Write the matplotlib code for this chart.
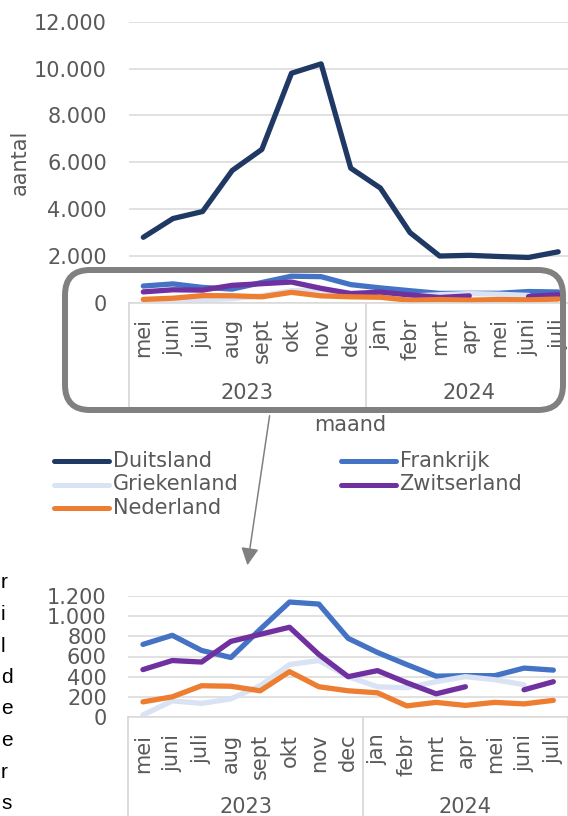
import matplotlib
matplotlib.use("Agg")
import matplotlib.pyplot as plt
import numpy as np
from matplotlib.lines import Line2D
from matplotlib.patches import FancyBboxPatch, FancyArrowPatch
from matplotlib.transforms import IdentityTransform
from matplotlib.ticker import FuncFormatter, MultipleLocator

# Months May 2023 - July 2024
months = ["mei", "juni", "juli", "aug", "sept", "okt", "nov", "dec",
          "jan", "febr", "mrt", "apr", "mei", "juni", "juli"]
years = ["2023", "2024"]
year_sizes = [8, 7]

nan = np.nan
duitsland = [2800, 3600, 3900, 5650, 6550, 9800, 10200, 5750,
             4900, 3000, 2000, 2030, 1980, 1940, 2180]
frankrijk = [720, 810, 660, 590, 870, 1140, 1120, 780,
             640, 520, 405, 410, 410, 485, 465]
griekenland = [20, 160, 135, 180, 310, 520, 560, 400,
               300, 290, 350, 400, 370, 320, nan]
zwitserland = [470, 560, 545, 750, 820, 890, 620, 400,
               460, 340, 230, 300, nan, 270, 350]
nederland = [150, 200, 310, 305, 260, 450, 300, 260,
             240, 110, 145, 115, 145, 130, 165]

series_names = ["Duitsland", "Frankrijk", "Griekenland", "Zwitserland", "Nederland"]
series_values = [duitsland, frankrijk, griekenland, zwitserland, nederland]
series_colors = ["#1f3864", "#4472c4", "#dae3f3", "#7030a0", "#ed7d31"]

# ends of lines of a paragraph next to the chart
side_chars = ["r", "i", "l", "d", "e", "e", "r", "s"]

W, H = 568, 816
TXT = "#595959"
GRID = "#d9d9d9"
FS = 15

plt.rcParams["font.family"] = "DejaVu Sans"

fig = plt.figure(figsize=(W / 100, H / 100), dpi=100)
fig.patch.set_facecolor("white")


def fx(x):
    return x / W


def fy(y):
    return 1 - y / H


def style_axes(ax, ymax, step, label_pad, year_off, sep_len):
    x = np.arange(len(months))
    ax.set_xlim(-0.5, len(months) - 0.5)
    ax.set_ylim(0, ymax)
    ax.yaxis.set_major_locator(MultipleLocator(step))
    ax.yaxis.set_major_formatter(FuncFormatter(lambda v, p: f"{int(v):,}".replace(",", ".")))
    ax.grid(axis="y", color=GRID, lw=1.1)
    ax.set_axisbelow(True)
    for s in ["top", "right", "left"]:
        ax.spines[s].set_visible(False)
    ax.spines["bottom"].set_color(GRID)
    ax.spines["bottom"].set_linewidth(1.1)
    ax.set_xticks(x)
    ax.set_xticklabels(months, rotation=90, fontsize=FS, color=TXT)
    ax.tick_params(axis="x", length=0, pad=label_pad)
    ax.tick_params(axis="y", length=0, pad=15.5, labelsize=FS, labelcolor=TXT)
    # year level of the category axis
    start = 0
    for yr, n in zip(years, year_sizes):
        ax.annotate(yr, xy=(start + (n - 1) / 2, 0), xycoords=("data", "axes fraction"),
                    xytext=(0, -year_off), textcoords="offset pixels",
                    ha="center", va="center", fontsize=FS, color=TXT, annotation_clip=False)
        start += n
    bounds = np.concatenate([[0], np.cumsum(year_sizes)]) - 0.5
    axh = ax.get_position().height * H
    for b in bounds:
        ax.axvline(b, ymin=-sep_len / axh, ymax=0, color=GRID, lw=1.3, clip_on=False)


# top chart: all countries
ax1 = fig.add_axes([fx(128.5), fy(302.9), (573 - 128.5) / W, (302.9 - 21.7) / H])
x = np.arange(len(months))
for name, vals, col in zip(series_names, series_values, series_colors):
    ax1.plot(x, vals, color=col, lw=3.8, solid_capstyle="round", solid_joinstyle="round")
style_axes(ax1, 12000, 2000, 11, 90, 104)

# bottom chart: zoom without Duitsland
ax2 = fig.add_axes([fx(128.3), fy(717), (568 - 128.3) / W, (717 - 596) / H])
for name, vals, col in zip(series_names[1:], series_values[1:], series_colors[1:]):
    ax2.plot(x, vals, color=col, lw=3.8, solid_capstyle="round", solid_joinstyle="round")
style_axes(ax2, 1200, 200, 12, 90, 120)

fig.text(fx(20), fy(162), "aantal", rotation=90, ha="center", va="center", fontsize=FS, color=TXT)
fig.text(fx(350), fy(425), "maand", ha="center", va="center", fontsize=FS, color=TXT)

# legend, rows filled left to right as in the original
leg_pos = [(53.6, 461), (340.6, 461), (53.6, 484.5), (340.6, 484.5), (53.6, 508)]
for (lx, ly), name, col in zip(leg_pos, series_names, series_colors):
    fig.add_artist(Line2D([fx(lx), fx(lx + 55)], [fy(ly), fy(ly)], color=col, lw=3.6,
                          solid_capstyle="round", transform=fig.transFigure))
    fig.text(fx(lx + 59), fy(ly), name, ha="left", va="center", fontsize=FS, color=TXT)

# rounded highlight box around the low values
box = FancyBboxPatch((65, H - 410), 498, 140, boxstyle="round,pad=0,rounding_size=25",
                     transform=IdentityTransform(), fill=False, ec="#808080", lw=4.3, zorder=10)
fig.add_artist(box)

arrow = FancyArrowPatch(posA=(270, H - 413), posB=(247, H - 568),
                        arrowstyle="-|>,head_length=0.75,head_width=0.38", mutation_scale=14,
                        color="#808080", lw=1.1, transform=IdentityTransform(), zorder=10)
fig.add_artist(arrow)

for i, ch in enumerate(side_chars):
    fig.text(fx(1), fy(583 + i * 31.5), ch, ha="left", va="center", fontsize=15,
             color="black", family="Liberation Sans")

fig.savefig("out.png", dpi=100, facecolor="white")
